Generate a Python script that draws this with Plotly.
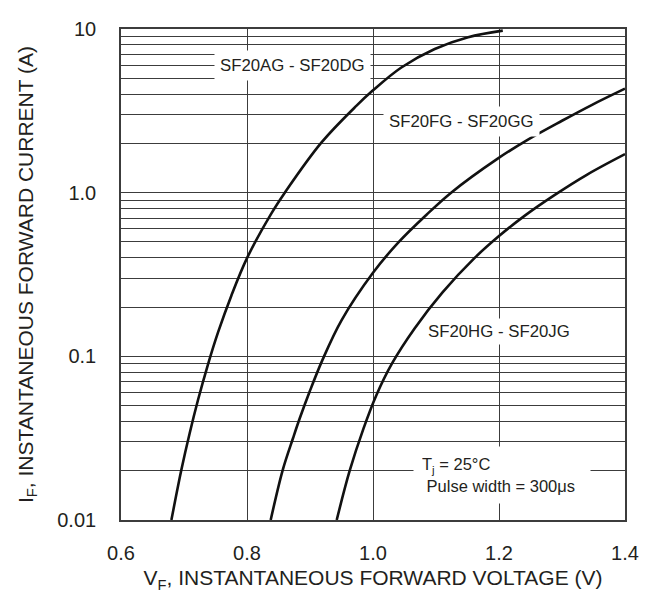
import math
import plotly.graph_objects as go

# Forward voltage (V) / forward current (A)
vf_ad = [0.680, 0.696, 0.709, 0.722, 0.738, 0.754, 0.775, 0.800, 0.839, 0.860,
         0.918, 0.9735, 1.000, 1.045, 1.098, 1.151, 1.206]
if_ad = [0.010, 0.0204, 0.0339, 0.0537, 0.0891, 0.140, 0.234, 0.398, 0.75, 1.0,
         2.02, 3.39, 4.22, 5.82, 7.55, 8.91, 9.77]

vf_fg = [0.8376, 0.857, 0.873, 0.8836, 0.8995, 0.920, 0.950, 1.000, 1.040,
         1.085, 1.124, 1.1985, 1.246, 1.300, 1.347, 1.400]
if_fg = [0.010, 0.0204, 0.0316, 0.0417, 0.061, 0.0955, 0.166, 0.324, 0.495,
         0.733, 1.0, 1.62, 2.11, 2.75, 3.43, 4.32]

vf_hj = [0.9424, 0.963, 0.985, 1.005, 1.030, 1.066, 1.110, 1.161, 1.200,
         1.241, 1.288, 1.340, 1.400]
if_hj = [0.010, 0.020, 0.0363, 0.0575, 0.0902, 0.148, 0.245, 0.398, 0.543,
         0.724, 0.966, 1.29, 1.72]

series_names = ["SF20AG - SF20DG", "SF20FG - SF20GG", "SF20HG - SF20JG"]
x_ticks = [0.6, 0.8, 1.0, 1.2, 1.4]
x_tick_text = ["0.6", "0.8", "1.0", "1.2", "1.4"]
y_ticks = [0.01, 0.1, 1, 10]
y_tick_text = ["0.01", "0.1", "1.0", "10"]

# label anchor positions (data coords: V, A)
label_x = [0.8722, 1.1405, 1.2]
label_y = [5.97, 2.74, 0.142]
label_pad = [5, 5, 3]
cond_x, cond_y = 1.2048, 0.0189

INK = "#231f20"
GRID = "#3c3c3c"
FONT = "Liberation Sans, Arial, Helvetica, sans-serif"

fig = go.Figure()
for vx, iy, nm in zip([vf_ad, vf_fg, vf_hj], [if_ad, if_fg, if_hj], series_names):
    fig.add_trace(go.Scatter(x=vx, y=iy, mode="lines", name=nm,
                             line=dict(color="#111111", width=2.6, shape="spline", smoothing=1.0),
                             showlegend=False, hoverinfo="skip"))

# annotations on a log axis take log10 of the value
for nm, lx, ly, pad in zip(series_names, label_x, label_y, label_pad):
    fig.add_annotation(x=lx, y=math.log10(ly), xref="x", yref="y", text=nm, showarrow=False,
                       font=dict(size=16.8, color=INK, family=FONT),
                       bgcolor="white", borderpad=pad, xanchor="center", yanchor="middle")

fig.add_annotation(x=cond_x, y=math.log10(cond_y), xref="x", yref="y",
                   text="T<sub>j</sub> = 25°C<br>&nbsp;Pulse width = 300μs",
                   showarrow=False, align="left", width=160, height=40,
                   font=dict(size=16.5, color=INK, family=FONT),
                   bgcolor="white", borderpad=8, xanchor="center", yanchor="middle")

fig.update_layout(
    width=649, height=594,
    margin=dict(l=113, r=32, t=10, b=82),
    paper_bgcolor="white", plot_bgcolor="white",
    font=dict(family=FONT, color=INK),
)
fig.update_xaxes(
    range=[0.6, 1.4], tickmode="array", tickvals=x_ticks, ticktext=x_tick_text,
    showgrid=True, gridcolor=GRID, gridwidth=1.2, zeroline=False,
    showline=True, linecolor=GRID, linewidth=1.6, mirror=True,
    ticks="", tickfont=dict(size=20, color=INK), ticklabelstandoff=14,
    title=dict(text="V<sub>F</sub>, INSTANTANEOUS FORWARD VOLTAGE (V)",
               font=dict(size=21, color=INK), standoff=8),
)
fig.update_yaxes(
    type="log", range=[-2, 1], tickmode="array", tickvals=y_ticks, ticktext=y_tick_text,
    showgrid=True, gridcolor=GRID, gridwidth=1.2, zeroline=False,
    showline=True, linecolor=GRID, linewidth=1.6, mirror=True,
    ticks="", tickfont=dict(size=20, color=INK), ticklabelstandoff=19,
    minor=dict(tickmode="linear", dtick="D1", showgrid=True, gridcolor=GRID, gridwidth=1, ticks=""),
    title=dict(text="I<sub>F</sub>, INSTANTANEOUS FORWARD CURRENT (A)",
               font=dict(size=21, color=INK), standoff=18),
)

fig.write_html("out.html")
